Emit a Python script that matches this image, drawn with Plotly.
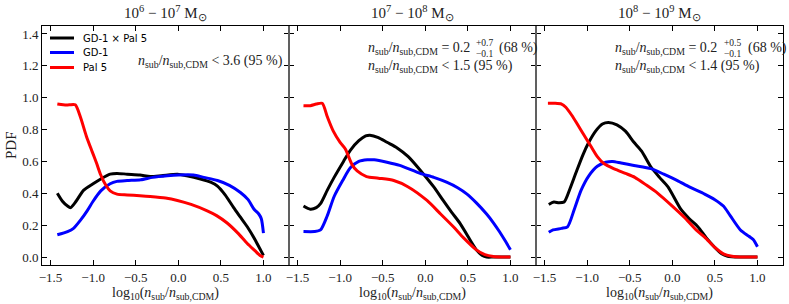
import plotly.graph_objects as go

# ---------------- data ----------------
panel_titles = ["10<sup>6</sup> − 10<sup>7</sup> M<sub>⊙</sub>",
                "10<sup>7</sup> − 10<sup>8</sup> M<sub>⊙</sub>",
                "10<sup>8</sup> − 10<sup>9</sup> M<sub>⊙</sub>"]
series_names = ["GD-1 × Pal 5", "GD-1", "Pal 5"]
series_colors = ["#000000", "#0000ff", "#ff0000"]

# Panel 1: 1e6 - 1e7
p1_comb_x = [-1.42, -1.36, -1.3, -1.265, -1.2, -1.11, -1.0, -0.91, -0.8, -0.72, -0.6, -0.45, -0.33, -0.2, -0.01, 0.1, 0.26, 0.38, 0.46, 0.55, 0.65, 0.73, 0.81, 0.9, 0.97, 1.0]
p1_comb_y = [0.40, 0.35, 0.32, 0.31, 0.35, 0.42, 0.46, 0.49, 0.52, 0.525, 0.52, 0.515, 0.505, 0.51, 0.52, 0.51, 0.49, 0.47, 0.445, 0.39, 0.31, 0.25, 0.19, 0.11, 0.04, 0.01]
p1_gd1_x = [-1.42, -1.3, -1.23, -1.15, -1.07, -1.0, -0.91, -0.8, -0.72, -0.6, -0.44, -0.3, -0.13, 0.0, 0.18, 0.3, 0.46, 0.6, 0.73, 0.82, 0.89, 0.945, 0.975, 1.0]
p1_gd1_y = [0.14, 0.16, 0.18, 0.23, 0.29, 0.35, 0.415, 0.46, 0.475, 0.48, 0.485, 0.50, 0.51, 0.515, 0.515, 0.50, 0.48, 0.45, 0.405, 0.36, 0.30, 0.27, 0.24, 0.15]
p1_pal5_x = [-1.42, -1.35, -1.28, -1.21, -1.15, -1.08, -1.01, -0.96, -0.91, -0.85, -0.8, -0.72, -0.6, -0.45, -0.33, -0.15, -0.01, 0.15, 0.34, 0.45, 0.57, 0.7, 0.81, 0.9, 0.96, 1.0]
p1_pal5_y = [0.96, 0.955, 0.955, 0.955, 0.88, 0.76, 0.66, 0.59, 0.515, 0.45, 0.415, 0.395, 0.39, 0.385, 0.38, 0.37, 0.355, 0.33, 0.29, 0.26, 0.215, 0.15, 0.085, 0.04, 0.01, 0.0]

# Panel 2: 1e7 - 1e8
p2_comb_x = [-1.43, -1.35, -1.28, -1.23, -1.15, -1.07, -0.96, -0.88, -0.78, -0.7, -0.65, -0.55, -0.45, -0.33, -0.2, -0.02, 0.1, 0.21, 0.31, 0.41, 0.5, 0.6, 0.67, 0.72, 0.8, 0.9, 1.0]
p2_comb_y = [0.32, 0.30, 0.31, 0.335, 0.42, 0.50, 0.60, 0.67, 0.73, 0.76, 0.765, 0.75, 0.72, 0.685, 0.63, 0.52, 0.44, 0.355, 0.28, 0.21, 0.13, 0.045, 0.01, 0.0, 0.0, 0.0, 0.0]
p2_gd1_x = [-1.43, -1.3, -1.23, -1.15, -1.07, -0.97, -0.88, -0.78, -0.68, -0.6, -0.45, -0.3, -0.06, 0.1, 0.25, 0.38, 0.49, 0.6, 0.72, 0.8, 0.87, 0.94, 1.0]
p2_gd1_y = [0.16, 0.16, 0.17, 0.26, 0.38, 0.48, 0.56, 0.60, 0.61, 0.61, 0.595, 0.575, 0.525, 0.50, 0.47, 0.435, 0.395, 0.34, 0.27, 0.215, 0.16, 0.10, 0.045]
p2_pal5_x = [-1.43, -1.35, -1.28, -1.21, -1.15, -1.08, -1.0, -0.94, -0.86, -0.8, -0.69, -0.55, -0.37, -0.2, 0.02, 0.18, 0.33, 0.45, 0.6, 0.7, 0.8, 0.9, 1.0]
p2_pal5_y = [0.95, 0.95, 0.96, 0.965, 0.88, 0.79, 0.72, 0.68, 0.58, 0.54, 0.505, 0.495, 0.48, 0.44, 0.355, 0.27, 0.19, 0.12, 0.045, 0.015, 0.003, 0.0, 0.0]

# Panel 3: 1e8 - 1e9
p3_comb_x = [-1.45, -1.39, -1.33, -1.27, -1.2, -1.13, -1.05, -0.98, -0.9, -0.82, -0.75, -0.65, -0.55, -0.45, -0.36, -0.25, -0.15, -0.05, 0.1, 0.2, 0.3, 0.4, 0.5, 0.58, 0.65, 0.8, 1.0]
p3_comb_y = [0.33, 0.345, 0.34, 0.345, 0.43, 0.53, 0.64, 0.72, 0.79, 0.835, 0.845, 0.83, 0.79, 0.72, 0.665, 0.565, 0.50, 0.44, 0.30, 0.24, 0.19, 0.12, 0.06, 0.02, 0.005, 0.0, 0.0]
p3_gd1_x = [-1.45, -1.4, -1.3, -1.23, -1.15, -1.07, -0.98, -0.88, -0.78, -0.7, -0.6, -0.45, -0.25, -0.1, 0.06, 0.2, 0.38, 0.5, 0.6, 0.68, 0.8, 0.9, 0.95, 1.0]
p3_gd1_y = [0.155, 0.17, 0.18, 0.19, 0.30, 0.42, 0.51, 0.57, 0.595, 0.60, 0.59, 0.575, 0.555, 0.52, 0.48, 0.44, 0.395, 0.36, 0.32, 0.26, 0.17, 0.13, 0.11, 0.065]
p3_pal5_x = [-1.46, -1.38, -1.3, -1.25, -1.18, -1.11, -1.03, -0.95, -0.88, -0.8, -0.68, -0.55, -0.44, -0.3, -0.17, 0.0, 0.14, 0.28, 0.38, 0.5, 0.6, 0.7, 0.8, 1.0]
p3_pal5_y = [0.965, 0.965, 0.96, 0.94, 0.89, 0.83, 0.76, 0.69, 0.63, 0.585, 0.553, 0.525, 0.50, 0.45, 0.40, 0.32, 0.25, 0.17, 0.125, 0.06, 0.02, 0.005, 0.0, 0.0]

x_tickvals = [-1.5, -1.0, -0.5, 0.0, 0.5, 1.0]
x_ticktext = ["−1.5", "−1.0", "−0.5", "0.0", "0.5", "1.0"]
y_tickvals = [0.0, 0.2, 0.4, 0.6, 0.8, 1.0, 1.2, 1.4]
y_ticktext = ["0.0", "0.2", "0.4", "0.6", "0.8", "1.0", "1.2", "1.4"]

panels = [
    [(p1_comb_x, p1_comb_y), (p1_gd1_x, p1_gd1_y), (p1_pal5_x, p1_pal5_y)],
    [(p2_comb_x, p2_comb_y), (p2_gd1_x, p2_gd1_y), (p2_pal5_x, p2_pal5_y)],
    [(p3_comb_x, p3_comb_y), (p3_gd1_x, p3_gd1_y), (p3_pal5_x, p3_pal5_y)],
]

# ---------------- layout helpers ----------------
W, H = 789, 304
L, R, T, B = 42, 6, 26, 39
PW = W - L - R
PH = H - T - B

def px(xp):
    return (xp - L) / PW

def py(yp):
    return (H - B - yp) / PH

SERIF = "Liberation Serif, Times New Roman, serif"
SANS = "DejaVu Sans, sans-serif"
TXT = "#222222"
AFS = 14  # annotation font size

fig = go.Figure()
for i, panel in enumerate(panels):
    suffix = "" if i == 0 else str(i + 1)
    for (xs, ys), name, col in zip(panel, series_names, series_colors):
        fig.add_trace(go.Scatter(
            x=xs, y=ys, mode="lines", name=name,
            line=dict(color=col, width=3, shape="spline", smoothing=0.7),
            xaxis="x" + suffix, yaxis="y" + suffix, showlegend=False,
            hoverinfo="skip"))

axis_common = dict(showline=True, linecolor="black", linewidth=1, mirror="allticks",
                   ticks="inside", ticklen=5, tickcolor="black", tickwidth=1,
                   showgrid=False, zeroline=False,
                   tickfont=dict(family=SERIF, size=13, color=TXT))
layout = dict(width=W, height=H, margin=dict(l=L, r=R, t=T, b=B),
              plot_bgcolor="white", paper_bgcolor="white", showlegend=False)
for i in range(3):
    suffix = "" if i == 0 else str(i + 1)
    layout["xaxis" + suffix] = dict(axis_common, domain=[i / 3, (i + 1) / 3],
                                    range=[-1.6, 1.3], tickvals=x_tickvals, ticktext=x_ticktext,
                                    anchor="y" + suffix, ticklabelstandoff=0)
    layout["yaxis" + suffix] = dict(axis_common, range=[-0.05, 1.45],
                                    tickvals=y_tickvals, ticktext=y_ticktext,
                                    showticklabels=(i == 0),
                                    anchor="x" + suffix)
fig.update_layout(**layout)

ann = []
nratio = "<i>n</i><sub>sub</sub>/<i>n</i><sub>sub,CDM</sub>"
for i in range(3):
    cx = (i + 0.5) / 3
    ann.append(dict(text=panel_titles[i], x=cx, y=py(13), xref="paper", yref="paper",
                    showarrow=False, xanchor="center", yanchor="middle",
                    font=dict(family=SERIF, size=15, color=TXT)))
    ann.append(dict(text="log<sub>10</sub>(" + nratio + ")", x=cx, y=py(304), xref="paper",
                    yref="paper", showarrow=False, xanchor="center", yanchor="bottom",
                    font=dict(family=SERIF, size=14, color=TXT)))
ann.append(dict(text="PDF", x=px(11), y=py(145), xref="paper", yref="paper", showarrow=False,
                textangle=-90, xanchor="center", yanchor="middle",
                font=dict(family=SERIF, size=15, color=TXT)))
ann.append(dict(text=nratio + " &lt; 3.6 (95 %)", x=px(136), y=py(62), xref="paper", yref="paper",
                showarrow=False, xanchor="left", yanchor="middle",
                font=dict(family=SERIF, size=AFS, color=TXT)))
for x0, sup_x, paren_x, up, lo, lim in [(366, 474, 497, "+0.7", "−0.1", "1.5"),
                                        (613, 722, 746, "+0.5", "−0.1", "1.4")]:
    ann.append(dict(text=nratio + " = 0.2", x=px(x0), y=py(48), xref="paper", yref="paper",
                    showarrow=False, xanchor="left", yanchor="middle",
                    font=dict(family=SERIF, size=AFS, color=TXT)))
    ann.append(dict(text=up, x=px(sup_x), y=py(43), xref="paper", yref="paper",
                    showarrow=False, xanchor="left", yanchor="middle",
                    font=dict(family=SERIF, size=9.5, color=TXT)))
    ann.append(dict(text=lo, x=px(sup_x), y=py(54), xref="paper", yref="paper",
                    showarrow=False, xanchor="left", yanchor="middle",
                    font=dict(family=SERIF, size=9.5, color=TXT)))
    ann.append(dict(text="(68 %)", x=px(paren_x), y=py(48), xref="paper", yref="paper",
                    showarrow=False, xanchor="left", yanchor="middle",
                    font=dict(family=SERIF, size=AFS, color=TXT)))
    ann.append(dict(text=nratio + " &lt; " + lim + " (95 %)", x=px(x0), y=py(66), xref="paper",
                    yref="paper", showarrow=False, xanchor="left", yanchor="middle",
                    font=dict(family=SERIF, size=AFS, color=TXT)))

shapes = []
for k, (name, col) in enumerate(zip(series_names, series_colors)):
    yy = [38, 52.5, 67.5][k]
    shapes.append(dict(type="line", xref="paper", yref="paper", x0=px(50), x1=px(74),
                       y0=py(yy), y1=py(yy), line=dict(color=col, width=3)))
    ann.append(dict(text=name, x=px(81), y=py(yy), xref="paper", yref="paper", showarrow=False,
                    xanchor="left", yanchor="middle", font=dict(family=SANS, size=10, color="black")))

for xs in (1 / 3, 2 / 3):
    shapes.append(dict(type="line", xref="paper", yref="paper", x0=xs, x1=xs, y0=0, y1=1,
                       line=dict(color="#808080", width=1.5), layer="above"))

fig.update_layout(annotations=ann, shapes=shapes)
fig.write_html("out.html", config={"displayModeBar": False},
               post_script="document.body.style.margin='0';document.body.style.overflow='hidden';")
